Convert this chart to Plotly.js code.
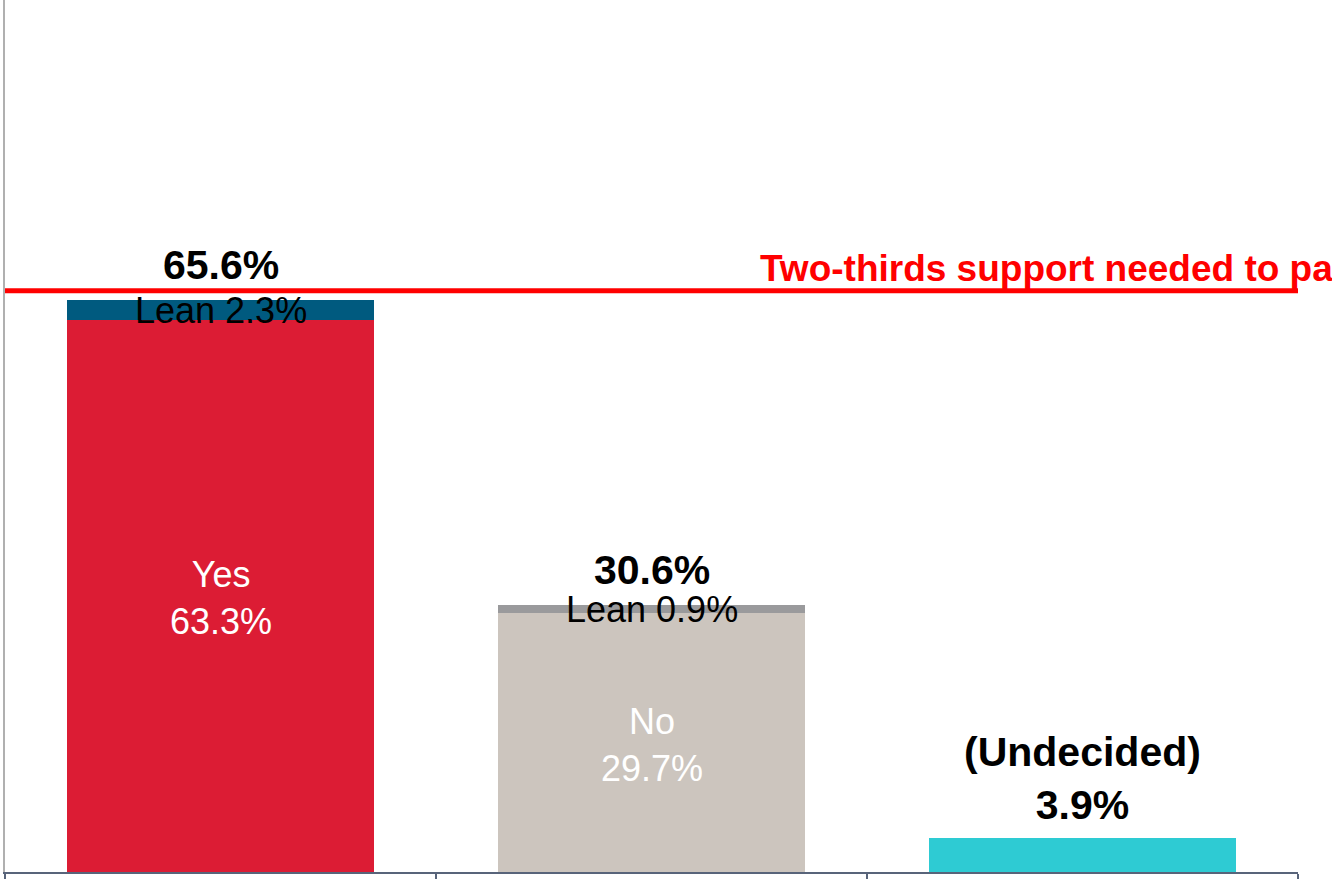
<!DOCTYPE html>
<html>
<head>
<meta charset="utf-8">
<script src="https://cdn.plot.ly/plotly-3.0.1.min.js"></script>
<style>html,body{margin:0;padding:0;background:#fff;}#chart{width:1332px;height:879px;}</style>
</head>
<body>
<div id="chart"></div>
<script>
const categories = ['Yes', 'No', 'Undecided'];
const baseValues = [63.3, 29.7, 3.9];
const leanValues = [2.3, 0.9, 0];
const totals = [65.6, 30.6, 3.9];
const baseLabels = ['Yes<br>63.3%', 'No<br>29.7%', ''];
const leanLabels = ['Lean 2.3%', 'Lean 0.9%', ''];
const totalLabels = ['65.6%', '30.6%', '(Undecided)<br>3.9%'];
const threshold = 66.67;
const thresholdLabel = 'Two-thirds support needed to pass';

const baseColors = ['#DC1C34', '#CCC5BE', '#2ECBD3'];
const leanColors = ['#005A7F', '#9A9A9C', '#9A9A9C'];

const font = 'Arial';

const traces = [
  {type: 'bar', x: categories, y: baseValues, marker: {color: baseColors}, width: 0.714, hoverinfo: 'none'},
  {type: 'bar', x: categories, y: leanValues, marker: {color: leanColors}, width: 0.714, hoverinfo: 'none'}
];

const annotations = [];
categories.forEach((c, i) => {
  if (baseLabels[i]) annotations.push({x: c, y: baseValues[i] / 2, text: baseLabels[i], showarrow: false,
    font: {family: font, size: 36, color: '#ffffff'}, yanchor: 'middle', yshift: -2});
  if (leanLabels[i]) annotations.push({x: c, y: baseValues[i] + leanValues[i] / 2, text: leanLabels[i], showarrow: false,
    font: {family: font, size: 36, color: '#000000'}, yanchor: 'middle', yshift: 0});
  annotations.push({x: c, y: totals[i], text: '<b>' + totalLabels[i] + '</b>', showarrow: false,
    font: {family: font, size: 41, color: '#000000'}, yanchor: 'bottom', yshift: i === 2 ? 8 : 10});
});
annotations.push({xref: 'paper', x: 0.582, y: threshold, text: '<b>' + thresholdLabel + '</b>', showarrow: false,
  xanchor: 'left', yanchor: 'bottom', yshift: 0, font: {family: font, size: 37, color: '#FF0000'}});

const layout = {
  width: 1332, height: 879,
  margin: {l: 5, r: 34, t: 0, b: 7},
  barmode: 'stack',
  showlegend: false,
  plot_bgcolor: '#ffffff', paper_bgcolor: '#ffffff',
  xaxis: {showticklabels: false, showline: true, linecolor: '#58647A', linewidth: 2,
    ticks: 'outside', tickson: 'boundaries', ticklen: 12, tickcolor: '#58647A', tickwidth: 1.5, showgrid: false, zeroline: false, fixedrange: true},
  yaxis: {range: [0, 100], showticklabels: false, showgrid: false, zeroline: false, showline: true,
    linecolor: '#B0B0B0', linewidth: 2, ticks: '', fixedrange: true},
  shapes: [{type: 'line', xref: 'paper', x0: 0, x1: 1, y0: threshold, y1: threshold, line: {color: '#FF0000', width: 5}}],
  annotations: annotations
};

Plotly.newPlot('chart', traces, layout, {staticPlot: true});
</script>
</body>
</html>
